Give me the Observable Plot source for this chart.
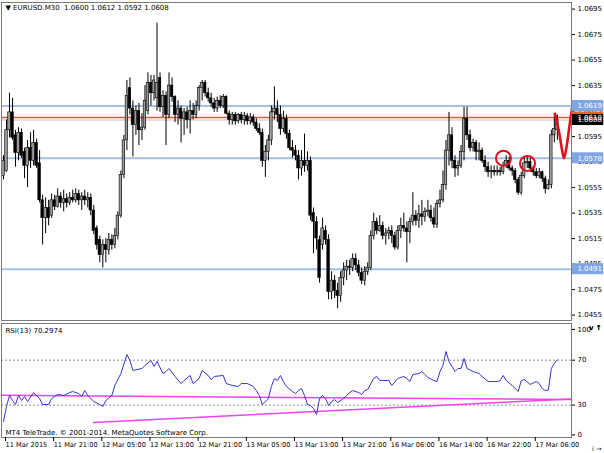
<!DOCTYPE html>
<html><head><meta charset="utf-8">
<script src="https://cdn.jsdelivr.net/npm/d3@7"></script>
<script src="https://cdn.jsdelivr.net/npm/@observablehq/plot@0.6"></script>
<style>
body{margin:0;background:#fff;}
#wrap{position:relative;width:604px;height:453px;overflow:hidden;background:#fff;}
#price{position:absolute;left:0;top:0;}
#rsi{position:absolute;left:0;top:322px;}
</style></head><body><div id="wrap"><div id="price"></div><div id="rsi"></div></div>
<script>
const symbolName = "EURUSD.M30";
const opens = [
1.0564,1.0568,1.0600,1.0614,1.0596,1.0582,1.0598,1.0583,1.0572,1.0586,
1.0576,1.0590,1.0574,1.0545,1.0531,1.0539,1.0533,1.0545,1.0540,1.0548,
1.0543,1.0546,1.0543,1.0547,1.0545,1.0550,1.0545,1.0548,1.0545,1.0547,
1.0537,1.0523,1.0514,1.0502,1.0510,1.0506,1.0514,1.0510,1.0517,1.0533,
1.0565,1.0592,1.0633,1.0617,1.0604,1.0615,1.0600,1.0602,1.0615,1.0637,
1.0629,1.0625,1.0641,1.0618,1.0627,1.0612,1.0635,1.0626,1.0612,1.0617,
1.0609,1.0614,1.0608,1.0615,1.0612,1.0619,1.0633,1.0637,1.0629,1.0625,
1.0621,1.0617,1.0623,1.0619,1.0626,1.0613,1.0608,1.0612,1.0607,1.0612,
1.0608,1.0611,1.0607,1.0610,1.0606,1.0601,1.0598,1.0576,1.0583,1.0592,
1.0614,1.0617,1.0612,1.0601,1.0609,1.0597,1.0586,1.0584,1.0580,1.0570,
1.0576,1.0572,1.0576,1.0535,1.0528,1.0514,1.0510,1.0521,1.0514,1.0473,
1.0482,1.0474,1.0470,1.0484,1.0490,1.0493,1.0492,1.0499,1.0494,1.0488,
1.0482,1.0489,1.0492,1.0517,1.0528,1.0521,1.0525,1.0517,1.0519,1.0521,
1.0517,1.0508,1.0521,1.0525,1.0523,1.0520,1.0528,1.0533,1.0529,1.0534,
1.0532,1.0536,1.0537,1.0531,1.0526,1.0542,1.0545,1.0557,1.0584,1.0596,
1.0576,1.0570,1.0572,1.0583,1.0609,1.0596,1.0586,1.0590,1.0583,1.0584,
1.0576,1.0571,1.0567,1.0568,1.0567,1.0568,1.0567,1.0572,1.0576,1.0570,
1.0568,1.0561,1.0551,1.0564,1.0574,1.0575,1.0570,1.0567,1.0564,1.0567,
1.0562,1.0554,1.0557,1.0596,1.0600];
const highs = [
1.0580,1.0608,1.0629,1.0625,1.0600,1.0602,1.0601,1.0586,1.0592,1.0598,
1.0600,1.0593,1.0584,1.0549,1.0547,1.0545,1.0550,1.0549,1.0554,1.0551,
1.0553,1.0550,1.0551,1.0553,1.0554,1.0553,1.0551,1.0553,1.0551,1.0550,
1.0541,1.0525,1.0517,1.0514,1.0515,1.0519,1.0518,1.0523,1.0536,1.0568,
1.0596,1.0639,1.0641,1.0623,1.0619,1.0621,1.0613,1.0635,1.0645,1.0643,
1.0643,1.0684,1.0645,1.0631,1.0630,1.0645,1.0641,1.0627,1.0623,1.0619,
1.0617,1.0618,1.0623,1.0621,1.0623,1.0635,1.0639,1.0639,1.0633,1.0629,
1.0625,1.0626,1.0627,1.0628,1.0627,1.0615,1.0614,1.0614,1.0613,1.0614,
1.0614,1.0613,1.0613,1.0612,1.0609,1.0605,1.0601,1.0588,1.0596,1.0619,
1.0634,1.0623,1.0619,1.0615,1.0612,1.0600,1.0592,1.0588,1.0584,1.0584,
1.0597,1.0583,1.0579,1.0539,1.0532,1.0517,1.0531,1.0525,1.0518,1.0489,
1.0486,1.0480,1.0489,1.0496,1.0498,1.0498,1.0503,1.0503,1.0498,1.0492,
1.0493,1.0496,1.0521,1.0535,1.0531,1.0533,1.0528,1.0523,1.0524,1.0525,
1.0520,1.0525,1.0531,1.0535,1.0528,1.0531,1.0551,1.0537,1.0541,1.0545,
1.0539,1.0545,1.0541,1.0539,1.0545,1.0553,1.0568,1.0592,1.0614,1.0602,
1.0580,1.0576,1.0588,1.0618,1.0618,1.0600,1.0593,1.0592,1.0590,1.0586,
1.0580,1.0575,1.0572,1.0572,1.0572,1.0571,1.0575,1.0580,1.0579,1.0572,
1.0570,1.0563,1.0567,1.0578,1.0580,1.0578,1.0572,1.0570,1.0570,1.0568,
1.0564,1.0561,1.0600,1.0613,1.0612];
const lows = [
1.0561,1.0567,1.0594,1.0592,1.0571,1.0576,1.0578,1.0562,1.0555,1.0570,
1.0572,1.0570,1.0543,1.0510,1.0519,1.0525,1.0531,1.0537,1.0539,1.0539,
1.0536,1.0539,1.0541,1.0543,1.0543,1.0541,1.0537,1.0541,1.0539,1.0533,
1.0518,1.0506,1.0496,1.0492,1.0496,1.0502,1.0506,1.0507,1.0514,1.0531,
1.0562,1.0584,1.0612,1.0579,1.0596,1.0588,1.0592,1.0600,1.0612,1.0619,
1.0623,1.0615,1.0614,1.0610,1.0588,1.0609,1.0622,1.0606,1.0604,1.0590,
1.0596,1.0601,1.0597,1.0608,1.0609,1.0615,1.0623,1.0626,1.0622,1.0618,
1.0614,1.0614,1.0617,1.0617,1.0612,1.0604,1.0604,1.0604,1.0605,1.0605,
1.0604,1.0604,1.0604,1.0603,1.0599,1.0596,1.0571,1.0563,1.0576,1.0588,
1.0608,1.0606,1.0596,1.0598,1.0593,1.0584,1.0578,1.0576,1.0561,1.0564,
1.0567,1.0568,1.0529,1.0503,1.0506,1.0480,1.0506,1.0510,1.0467,1.0467,
1.0468,1.0460,1.0465,1.0478,1.0482,1.0486,1.0489,1.0490,1.0485,1.0479,
1.0478,1.0486,1.0490,1.0514,1.0518,1.0520,1.0514,1.0510,1.0514,1.0511,
1.0506,1.0506,1.0515,1.0520,1.0496,1.0511,1.0525,1.0525,1.0523,1.0525,
1.0528,1.0532,1.0528,1.0523,1.0523,1.0539,1.0543,1.0553,1.0572,1.0570,
1.0563,1.0564,1.0570,1.0576,1.0592,1.0583,1.0583,1.0576,1.0576,1.0574,
1.0567,1.0563,1.0562,1.0564,1.0564,1.0564,1.0565,1.0570,1.0568,1.0564,
1.0558,1.0549,1.0549,1.0562,1.0570,1.0567,1.0564,1.0562,1.0562,1.0559,
1.0550,1.0553,1.0554,1.0590,1.0592];
const closes = [
1.0576,1.0600,1.0614,1.0594,1.0582,1.0598,1.0580,1.0572,1.0586,1.0576,
1.0590,1.0572,1.0545,1.0531,1.0539,1.0531,1.0545,1.0540,1.0548,1.0543,
1.0546,1.0543,1.0547,1.0545,1.0550,1.0545,1.0548,1.0545,1.0547,1.0537,
1.0521,1.0510,1.0502,1.0510,1.0506,1.0514,1.0510,1.0517,1.0533,1.0565,
1.0592,1.0627,1.0617,1.0604,1.0615,1.0600,1.0602,1.0623,1.0637,1.0629,
1.0639,1.0637,1.0618,1.0627,1.0612,1.0635,1.0626,1.0612,1.0617,1.0609,
1.0614,1.0608,1.0615,1.0612,1.0619,1.0633,1.0637,1.0629,1.0625,1.0621,
1.0617,1.0623,1.0619,1.0626,1.0613,1.0608,1.0612,1.0607,1.0612,1.0608,
1.0611,1.0607,1.0610,1.0606,1.0601,1.0598,1.0576,1.0583,1.0592,1.0614,
1.0617,1.0612,1.0601,1.0609,1.0597,1.0586,1.0584,1.0580,1.0570,1.0576,
1.0572,1.0576,1.0533,1.0528,1.0515,1.0484,1.0523,1.0514,1.0473,1.0482,
1.0474,1.0470,1.0484,1.0490,1.0493,1.0492,1.0499,1.0494,1.0488,1.0482,
1.0489,1.0492,1.0517,1.0528,1.0521,1.0525,1.0517,1.0519,1.0521,1.0517,
1.0508,1.0521,1.0525,1.0523,1.0520,1.0528,1.0533,1.0529,1.0534,1.0532,
1.0536,1.0537,1.0531,1.0526,1.0542,1.0545,1.0557,1.0584,1.0596,1.0576,
1.0570,1.0572,1.0583,1.0609,1.0596,1.0586,1.0590,1.0583,1.0584,1.0576,
1.0571,1.0567,1.0568,1.0567,1.0568,1.0567,1.0572,1.0576,1.0570,1.0568,
1.0561,1.0551,1.0564,1.0574,1.0575,1.0570,1.0567,1.0564,1.0567,1.0562,
1.0554,1.0557,1.0596,1.0601,1.0608];

const priceTicks = [1.0455,1.0475,1.0495,1.0515,1.0535,1.0555,1.0575,1.0595,1.0615,1.0635,1.0655,1.0675,1.0695];
const supportLevels = [1.0619,1.0578,1.0491];
const redLevel = 1.0610;
const bidLevel = 1.0608;
const circleBars = [166.1,174.1];
const circlePrices = [1.0578,1.0574];
const vBars = [183.2,184.6,185.6,186.2,187.0,188.0,189.0];
const vPrices = [1.0613,1.0598,1.0584,1.0578,1.0586,1.0603,1.0619];

const timeTickBars = [0,16,32,48,64,80,96,112,128,144,160,176];
const timeLabels = ["11 Mar 2015","11 Mar 21:00","12 Mar 05:00","12 Mar 13:00","12 Mar 21:00","13 Mar 05:00","13 Mar 13:00","13 Mar 21:00","16 Mar 06:00","16 Mar 14:00","16 Mar 22:00","17 Mar 06:00"];

const rsiBars = [0,1,2,3,4,5,6,7,8,10,12,13,15,16,17,18,20,22,23,25,26,27,28,30,32,33,34,36,37,39,41,42,43,46,47,49,50,51,53,54,55,57,59,60,62,63,65,66,68,69,70,73,74,76,78,79,81,83,84,85,86,88,89,90,91,92,93,94,96,97,98,99,100,101,102,103,104,105,106,107,108,109,110,111,113,114,115,116,118,119,120,121,123,124,125,126,128,129,131,133,134,135,136,138,139,140,141,143,144,145,146,147,148,150,151,152,153,154,156,158,159,161,162,164,165,166,167,169,171,172,173,175,177,178,179,180,181,182,183,184];
const rsiValues = [15.5,28.8,38.6,34.1,30.6,38.6,34.1,37.7,33.2,41.2,35.9,30.6,30.6,35.9,37.7,39.5,38.6,41.2,42.1,40.4,37.7,43.0,38.6,33.2,30.6,28.8,34.1,38.6,47.5,58.1,75.0,69.7,60.8,62.6,65.2,69.7,64.4,68.8,58.1,59.9,62.6,55.5,49.2,51.9,56.4,49.2,53.7,60.8,56.4,52.8,55.5,56.4,49.2,47.5,46.6,49.2,49.2,46.6,43.0,38.6,30.6,35.9,46.6,53.7,51.9,56.4,51.0,46.6,42.1,40.4,43.0,44.8,38.6,30.6,29.7,27.0,21.7,35.9,38.6,35.9,29.7,33.2,35.0,32.4,35.9,38.6,41.2,43.0,41.2,39.5,43.0,43.9,53.7,55.5,51.9,51.9,51.9,47.5,53.7,55.5,53.7,51.0,57.2,58.1,59.9,57.2,54.6,51.9,51.0,59.9,65.2,77.7,68.8,59.9,62.6,62.6,71.5,62.6,59.9,58.1,55.5,51.0,51.0,51.0,51.9,56.4,51.9,47.5,42.1,51.9,52.8,48.4,51.0,49.2,44.8,43.0,43.5,62.6,67.1,70.3];
const rsiCurrentText = "70.2974";
const rsiLevels = [30,70];
const trendIds = ["a","a","b","b"];
const trendBars = [-0.66,188.7,29.9,188.7];
const trendValues = [38.8,35.0,14.6,35.5];

const FONT = "'DejaVu Sans', Verdana, sans-serif";
const xDomain = [-0.66, 188.7];
const pxPerUnit = 12750;
const last = opens.length - 1;
const candles = opens.map((o,i)=>({i, o, h:highs[i], l:lows[i], c:closes[i]}));
const circles = circleBars.map((b,k)=>({i:b, p:circlePrices[k]}));
const vPath = vBars.map((b,k)=>({i:b, p:vPrices[k]}));
const half = 5.5/pxPerUnit;
const labelBoxes = [
  {p:supportLevels[0], bg:"#7ea6e4"},
  {p:supportLevels[1], bg:"#7ea6e4"},
  {p:supportLevels[2], bg:"#7ea6e4"},
  {p:redLevel, bg:"#f0602a"},
  {p:bidLevel, bg:"#000000"}
];
const title = `\u25BC ${symbolName}  ${opens[last].toFixed(4)} ${highs[last].toFixed(4)} ${lows[last].toFixed(4)} ${closes[last].toFixed(4)}`;

const priceChart = Plot.plot({
  width:604, height:322, marginTop:2, marginBottom:2, marginLeft:1, marginRight:33,
  x:{domain:xDomain, axis:null},
  y:{domain:[1.0619 - 214.5/pxPerUnit, 1.0619 + 103.5/pxPerUnit]},
  style:{fontFamily:FONT, fontSize:"7px", color:"black", background:"white", overflow:"visible"},
  marks:[
    Plot.ruleY(supportLevels,{stroke:"#a6c0e8", strokeWidth:2}),
    Plot.ruleY([bidLevel],{stroke:"#cdbfb2", strokeWidth:1}),
    Plot.ruleY([redLevel],{stroke:"#e8582e", strokeWidth:1.3}),
    Plot.ruleX(candles,{x:"i", y1:"l", y2:"h", stroke:"black", strokeWidth:1}),
    Plot.rect(candles,{x1:d=>d.i-0.42, x2:d=>d.i+0.42, y1:"o", y2:"c",
      fill:d=>d.c>=d.o?"#9c9c9c":"#000", stroke:"#000", strokeWidth:0.6}),
    Plot.dot(circles,{x:"i", y:"p", r:7.5, stroke:"#e3101c", strokeWidth:2, fill:"none"}),
    Plot.line(vPath,{x:"i", y:"p", stroke:"#e3101c", strokeWidth:2.6, curve:"catmull-rom"}),
    Plot.frame({stroke:"#7a7a7a"}),
    Plot.axisY({anchor:"right", ticks:priceTicks, tickFormat:d=>d.toFixed(4), tickSize:3, tickPadding:3, fontSize:7}),
    Plot.rect(labelBoxes,{x1:()=>189.0, x2:()=>199.4, y1:d=>d.p-half, y2:d=>d.p+half, fill:"bg"}),
    Plot.text(labelBoxes,{x:()=>189.0, y:"p", text:d=>d.p.toFixed(4), textAnchor:"start", dx:5, fill:"white", fontSize:7}),
    Plot.text([title],{frameAnchor:"top-left", dx:4, dy:3, textAnchor:"start", lineAnchor:"top", fontSize:7, fill:"black"})
  ]
});
document.getElementById("price").appendChild(priceChart);

const rsiData = rsiBars.map((b,k)=>({i:b, v:rsiValues[k]}));
const trendData = trendBars.map((b,k)=>({i:b, v:trendValues[k], id:trendIds[k]}));
const tickLabel = d => timeLabels[timeTickBars.indexOf(d)];
const rsiChart = Plot.plot({
  width:604, height:131, marginTop:1, marginBottom:16, marginLeft:1, marginRight:33,
  x:{domain:xDomain},
  y:{domain:[1.24, 102.6]},
  style:{fontFamily:FONT, fontSize:"7px", color:"black", background:"white", overflow:"visible"},
  marks:[
    Plot.ruleY(rsiLevels,{stroke:"#8a8a8a", strokeDasharray:"2,2"}),
    Plot.line(trendData,{x:"i", y:"v", z:"id", stroke:"#ee44ee", strokeWidth:1.5}),
    Plot.line(rsiData,{x:"i", y:"v", stroke:"#3434d4", strokeWidth:1}),
    Plot.frame({stroke:"#7a7a7a"}),
    Plot.axisY({anchor:"right", ticks:rsiLevels, tickSize:3, tickPadding:3, fontSize:7}),
    Plot.axisY({anchor:"right", ticks:[100], tickSize:3, tickPadding:3, dy:3, fontSize:7}),
    Plot.axisY({anchor:"right", ticks:[0], tickSize:3, tickPadding:3, dy:-4, fontSize:7}),
    Plot.axisX({anchor:"bottom", ticks:timeTickBars, tickFormat:tickLabel, tickSize:4, tickPadding:1, textAnchor:"start", dx:2, fontSize:6.6}),
    Plot.text([`RSI(13) ${rsiCurrentText}`],{frameAnchor:"top-left", dx:4, dy:5, textAnchor:"start", lineAnchor:"top", fontSize:7}),
    Plot.text(["MT4 TeleTrade. \u00A9 2001-2014. MetaQuotes Software Corp."],{frameAnchor:"bottom-left", dx:4, dy:-3, textAnchor:"start", lineAnchor:"bottom", fontSize:7})
  ]
});
document.getElementById("rsi").appendChild(rsiChart);
</script></body></html>
